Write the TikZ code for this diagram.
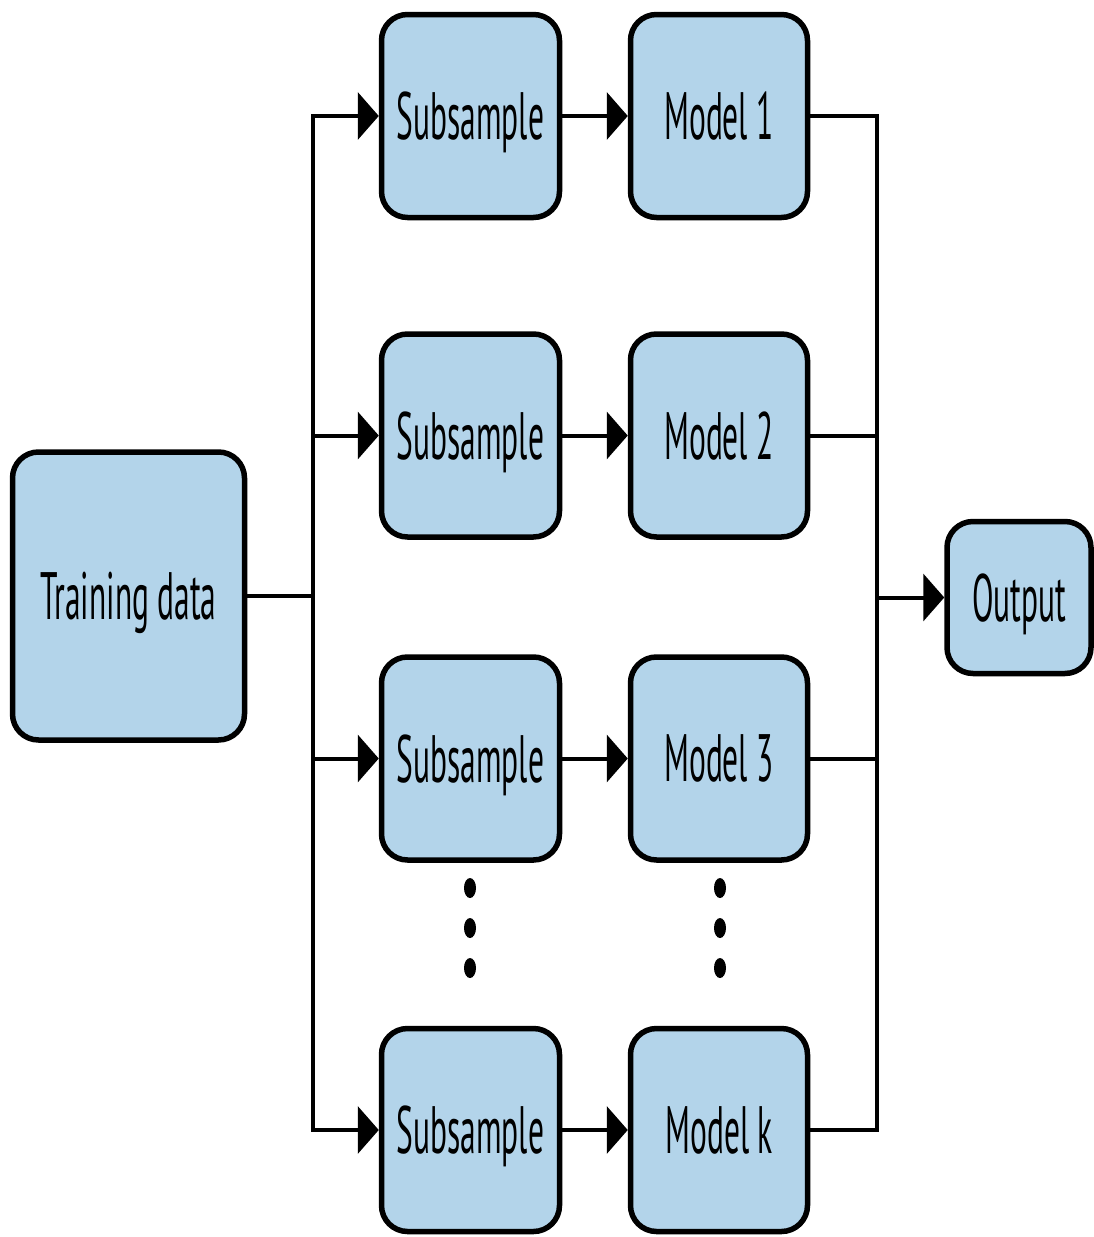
\documentclass[tikz,border=0pt]{standalone}
\usepackage{fontspec}
\setmainfont[FakeStretch=0.47]{PT Sans}
\usetikzlibrary{arrows.meta}
\definecolor{boxblue}{RGB}{179,212,234}
\tikzset{
  blk/.style={draw=black, fill=boxblue, line width=5.5pt, rounded corners=26pt, inner sep=0pt, text depth=0pt, font=\fontsize{67}{75}\selectfont},
  conn/.style={line width=4pt, draw=black},
  arr/.style={conn, -{Triangle[length=21pt, width=47pt]}},
  dotmark/.style={fill=black, draw=none}
}
\begin{document}
\begin{tikzpicture}[x=1pt, y=-1pt]
\useasboundingbox (0,0) rectangle (1094,1237);
\node[blk, minimum width=232pt, minimum height=288pt] (train) at (128.5,596) {Training data};
\node[blk, minimum width=144pt, minimum height=152pt] (out) at (1019,597.5) {Output};
\foreach \n/\y/\lab in {1/116/Model 1, 2/435.5/Model 2, 3/758.5/Model 3, k/1130/Model k}{
  \node[blk, minimum width=178pt, minimum height=203pt] (s\n) at (470.5,\y) {Subsample};
  \node[blk, minimum width=177pt, minimum height=203pt] (m\n) at (719,\y) {\lab};
}
\coordinate (lt) at (313,116);
\coordinate (lb) at (313,1130);
\coordinate (rt) at (877,116);
\coordinate (rb) at (877,1130);
\draw[conn] (train.east) -- (313,596);
\draw[conn, line cap=rect] (lt) -- (lb);
\draw[conn, line cap=rect] (rt) -- (rb);
\foreach \n in {1,2,3,k}{
  \draw[arr] (lt |- s\n.west) -- (s\n.west);
  \draw[arr] (s\n.east) -- (m\n.west);
  \draw[conn] (m\n.east) -- (rt |- m\n.east);
}
\draw[arr] (rt |- out.west) -- (out.west);
\foreach \x in {470,720}{
  \foreach \y in {888,928,968}{
    \fill[dotmark] (\x,\y) ellipse [x radius=6pt, y radius=10pt];
  }
}
\end{tikzpicture}
\end{document}
